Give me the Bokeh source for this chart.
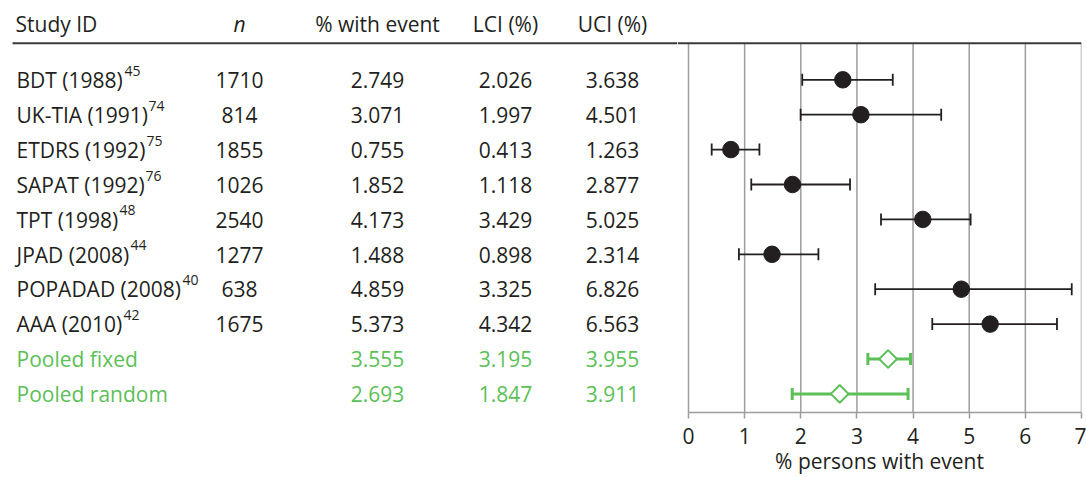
import numpy as np
from bokeh.plotting import figure
from bokeh.layouts import row
from bokeh.models import Range1d, FixedTicker
from bokeh.core.properties import value
from bokeh.embed import file_html
from bokeh.resources import INLINE

# ---------------- data ----------------
studies = ["BDT (1988)", "UK-TIA (1991)", "ETDRS (1992)", "SAPAT (1992)",
           "TPT (1998)", "JPAD (2008)", "POPADAD (2008)", "AAA (2010)"]
refs = ["45", "74", "75", "76", "48", "44", "40", "42"]
n_sizes = [1710, 814, 1855, 1026, 2540, 1277, 638, 1675]
pct_event = [2.749, 3.071, 0.755, 1.852, 4.173, 1.488, 4.859, 5.373]
lci = [2.026, 1.997, 0.413, 1.118, 3.429, 0.898, 3.325, 4.342]
uci = [3.638, 4.501, 1.263, 2.877, 5.025, 2.314, 6.826, 6.563]

pooled_labels = ["Pooled fixed", "Pooled random"]
pooled_pct = [3.555, 2.693]
pooled_lci = [3.195, 1.847]
pooled_uci = [3.955, 3.911]

headers = ["Study ID", "n", "% with event", "LCI (%)", "UCI (%)"]
x_ticks = [0, 1, 2, 3, 4, 5, 6, 7]
x_label = "% persons with event"

# ---------------- style / layout ----------------
FONT = "Open Sans"
FS = "21px"
DARK = "#231f20"
GREEN = "#5cbf57"
GRID = "#9d9d9d"
RULE = "#3a3a3a"

ROW_Y0 = 79.3      # pixel of first row centre
ROW_H = 34.9       # pixel pitch of rows
FRAME_H = 412


def row_of(py):
    return (py - ROW_Y0) / ROW_H


study_rows = list(range(len(studies)))
pooled_rows = [len(studies) + i for i in range(len(pooled_labels))]

yr = Range1d(row_of(FRAME_H), row_of(0))
header_y = row_of(31.7)
rule_y = row_of(42.7)
FIX = -8          # empirical baseline correction (px)
TEXT_DY = 8.2 + FIX

# column centres (pixels)
COL_N, COL_PCT, COL_LCI, COL_UCI = 239, 377, 505, 612
# superscript start, just after each study label (pixels)
sup_x = [124, 148, 146, 145, 119, 130, 182, 123]

LEFT_W = 677
# ---------------- left table ----------------
left = figure(frame_width=LEFT_W, frame_height=FRAME_H, x_range=Range1d(0, LEFT_W), y_range=yr,
              x_axis_type=None, y_axis_type=None, toolbar_location=None,
              output_backend="svg", min_border=0, outline_line_color=None)

common = dict(text_font=value(FONT), text_font_size=FS, text_baseline="alphabetic")

# headers
left.text(x=15, y=header_y, text=[headers[0]], text_color=DARK, text_align="left",
          y_offset=FIX, **common)
left.text(x=COL_N, y=header_y, text=[headers[1]], text_color=DARK, text_align="center",
          text_font_style="italic", y_offset=FIX, **common)
for cx, h in zip([COL_PCT, COL_LCI, COL_UCI], headers[2:]):
    left.text(x=cx, y=header_y, text=[h], text_color=DARK, text_align="center",
              y_offset=FIX, **common)

left.segment(x0=12, y0=rule_y, x1=LEFT_W, y1=rule_y, line_color=RULE, line_width=2)

# study rows
left.text(x=16, y=study_rows, text=studies, text_color=DARK, text_align="left",
          y_offset=TEXT_DY, **common)
left.text(x=sup_x, y=study_rows, text=refs, text_color=DARK, text_align="left",
          text_font=value(FONT), text_font_size="14px", text_baseline="alphabetic",
          y_offset=FIX - 1)
left.text(x=COL_N, y=study_rows, text=[str(v) for v in n_sizes], text_color=DARK,
          text_align="center", y_offset=TEXT_DY, **common)
for cx, vals in zip([COL_PCT, COL_LCI, COL_UCI], [pct_event, lci, uci]):
    left.text(x=cx, y=study_rows, text=[f"{v:.3f}" for v in vals], text_color=DARK,
              text_align="center", y_offset=TEXT_DY, **common)

# pooled rows
left.text(x=16, y=pooled_rows, text=pooled_labels, text_color=GREEN, text_align="left",
          y_offset=TEXT_DY, **common)
for cx, vals in zip([COL_PCT, COL_LCI, COL_UCI], [pooled_pct, pooled_lci, pooled_uci]):
    left.text(x=cx, y=pooled_rows, text=[f"{v:.3f}" for v in vals], text_color=GREEN,
              text_align="center", y_offset=TEXT_DY, **common)

# ---------------- right forest plot ----------------
PX_PER_UNIT = (1081 - 688) / 7
X_LEFT = -(688 - LEFT_W) / PX_PER_UNIT
right = figure(frame_width=1081 - LEFT_W, frame_height=FRAME_H,
               x_range=Range1d(X_LEFT, 7), y_range=yr,
               y_axis_type=None, toolbar_location=None, output_backend="svg",
               min_border=0, min_border_right=5, outline_line_color=None)
right.xgrid.visible = False

ax = right.xaxis[0]
ax.ticker = FixedTicker(ticks=x_ticks)
ax.bounds = (0, 7)
ax.axis_line_color = GRID
ax.axis_line_width = 1.5
ax.major_tick_line_color = GRID
ax.major_tick_line_width = 1.5
ax.major_tick_in = 0
ax.major_tick_out = 6
ax.minor_tick_line_color = None
ax.major_label_text_font = FONT
ax.major_label_text_font_size = FS
ax.major_label_text_color = DARK
ax.major_label_standoff = 9
ax.axis_label = x_label
ax.axis_label_text_font = FONT
ax.axis_label_text_font_size = FS
ax.axis_label_text_font_style = "normal"
ax.axis_label_text_color = DARK
ax.axis_label_standoff = 0

# vertical reference lines
right.segment(x0=x_ticks, y0=rule_y, x1=x_ticks, y1=yr.start, line_color=GRID, line_width=1.5)
right.segment(x0=X_LEFT, y0=rule_y, x1=7, y1=rule_y, line_color=RULE, line_width=2)

# studies
right.segment(x0=lci, y0=study_rows, x1=uci, y1=study_rows, line_color=DARK, line_width=1.8)
right.scatter(x=lci, y=study_rows, marker="dash", angle=np.pi / 2, size=12,
              line_color=DARK, line_width=1.8)
right.scatter(x=uci, y=study_rows, marker="dash", angle=np.pi / 2, size=12,
              line_color=DARK, line_width=1.8)
right.scatter(x=pct_event, y=study_rows, marker="circle", size=16.5,
              fill_color=DARK, line_color=DARK)

# pooled
right.segment(x0=pooled_lci, y0=pooled_rows, x1=pooled_uci, y1=pooled_rows,
              line_color=GREEN, line_width=3)
right.scatter(x=pooled_lci, y=pooled_rows, marker="dash", angle=np.pi / 2, size=12,
              line_color=GREEN, line_width=3)
right.scatter(x=pooled_uci, y=pooled_rows, marker="dash", angle=np.pi / 2, size=12,
              line_color=GREEN, line_width=3)
right.scatter(x=pooled_pct, y=pooled_rows, marker="square", angle=np.pi / 4, size=12.5,
              fill_color="white", line_color=GREEN, line_width=2)

layout = row(left, right)
open("out.html", "w").write(file_html(layout, INLINE))
